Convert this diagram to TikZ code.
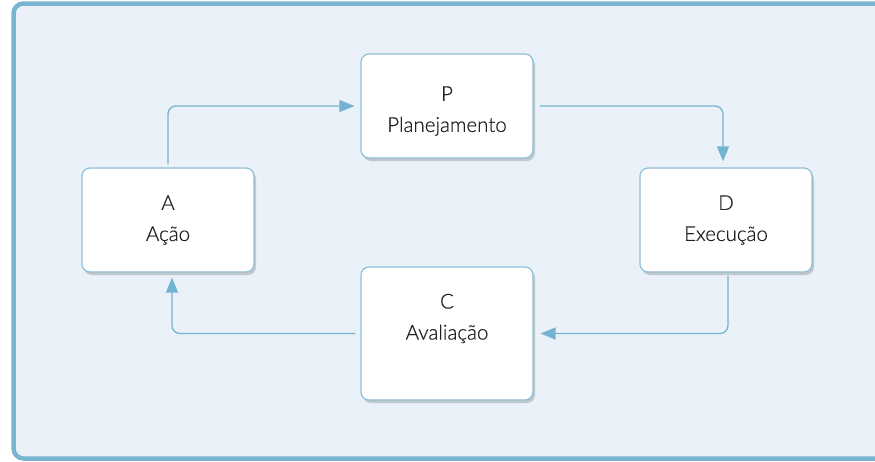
\documentclass[tikz,border=0pt]{standalone}
\usepackage{fontspec}
\setmainfont{Lato Light}[RawFeature={embolden=0.6}]
\usetikzlibrary{arrows.meta,shadows}
\definecolor{bgfill}{HTML}{EAF1F8}
\definecolor{frame}{HTML}{79B5D1}
\definecolor{boxline}{HTML}{8CC0D8}
\definecolor{conncol}{HTML}{74B3D1}
\definecolor{txt}{HTML}{222222}
\begin{document}
\begin{tikzpicture}[x=1pt,y=-1pt,
  stepbox/.style={draw=boxline, line width=1.2pt, fill=white, rounded corners=8pt,
    minimum width=172pt, minimum height=104pt, inner sep=0pt,
    drop shadow={shadow xshift=2pt, shadow yshift=-3pt, opacity=0.25, fill=black!70}},
  lbl/.style={align=center, text=txt, font=\fontsize{20.5}{31}\selectfont, inner sep=0pt},
  conn/.style={draw=conncol, line width=1.3pt, rounded corners=8pt,
    -{Triangle[length=15pt,width=12pt]}}]
\useasboundingbox (0,0) rectangle (875,461);
\draw[frame, line width=4.5pt, fill=bgfill, rounded corners=10pt] (13.5,3.5) rectangle (900,458.5);
\node[stepbox, label={[lbl, yshift=-5pt]center:P\\Planejamento}] (P) at (447,106) {};
\node[stepbox, label={[lbl]center:D\\Execução}] (D) at (726,220) {};
\node[stepbox, label={[lbl]center:A\\Ação}] (A) at (168,220) {};
\node[stepbox, minimum height=133pt, label={[lbl, yshift=15pt]center:C\\Avaliação}] (C) at (447,333.5) {};
\draw[conn] ([yshift=3pt]A.north) |- ([xshift=-6pt]P.west);
\draw[conn] ([xshift=6pt]P.east) -| ([xshift=-3pt,yshift=6pt]D.north);
\draw[conn] ([xshift=2pt,yshift=-3pt]D.south) |- ([xshift=7pt]C.east);
\draw[conn] ([xshift=-5pt]C.west) -| ([xshift=4pt,yshift=-5pt]A.south);
\end{tikzpicture}
\end{document}
